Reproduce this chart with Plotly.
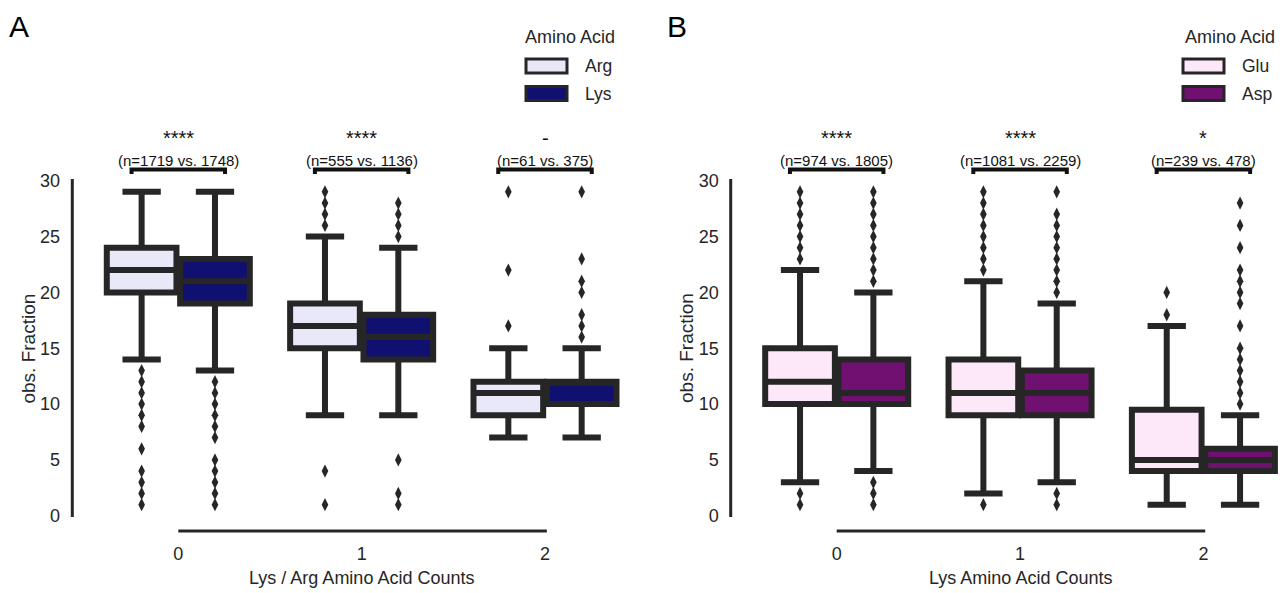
import plotly.graph_objects as go

# ---------------- data ----------------
categories = [0, 1, 2]
tick_labels = ["0", "1", "2"]
y_ticks = [0, 5, 10, 15, 20, 25, 30]

# Panel A (Lys / Arg counts)
a_hues = ["Arg", "Lys"]
arg_q1 = [20, 15, 9]
arg_med = [22, 17, 11]
arg_q3 = [24, 19, 12]
arg_lo = [14, 9, 7]
arg_hi = [29, 25, 15]
arg_out = [[13, 12, 11, 10, 9, 8, 6, 4, 3, 2, 1],
           [29, 28, 27, 26, 4, 1],
           [29, 22, 17]]
lys_q1 = [19, 14, 10]
lys_med = [21, 16, 12]
lys_q3 = [23, 18, 12]
lys_lo = [13, 9, 7]
lys_hi = [29, 24, 15]
lys_out = [[12, 11, 10, 9, 8, 7, 5, 4, 3, 2, 1],
           [28, 27, 26, 25, 5, 2, 1],
           [29, 23, 21, 20, 18, 17, 16]]
a_stars = ["****", "****", "-"]
a_counts = ["(n=1719 vs. 1748)", "(n=555 vs. 1136)", "(n=61 vs. 375)"]

# Panel B (Lys counts)
b_hues = ["Glu", "Asp"]
glu_q1 = [10, 9, 4]
glu_med = [12, 11, 5]
glu_q3 = [15, 14, 9.5]
glu_lo = [3, 2, 1]
glu_hi = [22, 21, 17]
glu_out = [[29, 28, 27, 26, 25, 24, 23, 2, 1],
           [29, 28, 27, 26, 25, 24, 23, 22, 1],
           [20, 18]]
asp_q1 = [10, 9, 4]
asp_med = [11, 11, 5]
asp_q3 = [14, 13, 6]
asp_lo = [4, 3, 1]
asp_hi = [20, 19, 9]
asp_out = [[29, 28, 27, 26, 25, 24, 23, 22, 21, 3, 2, 1],
           [29, 27, 26, 25, 24, 23, 22, 21, 20, 2, 1],
           [28, 26, 24, 22, 21, 20, 19, 17, 15, 14, 13, 12, 11, 10]]
b_stars = ["****", "****", "*"]
b_counts = ["(n=974 vs. 1805)", "(n=1081 vs. 2259)", "(n=239 vs. 478)"]

# ---------------- style ----------------
W, H = 1285, 593
EDGE = "#262626"
TXT = "#262626"
FONT = "Liberation Sans, Arial, sans-serif"
COL = {"Arg": "#E8E8F8", "Lys": "#101070", "Glu": "#FCE8F8", "Asp": "#701070"}
OFFSET = 0.2
BOXW = 0.38


def px_x(p):
    return p / W


def px_y(p):
    return 1 - p / H


fig = go.Figure()


def add_hue(name, q1, med, q3, lo, hi, outs, side, xa, ya):
    pos = [c + side * OFFSET for c in categories]
    fig.add_trace(go.Box(
        x=pos, q1=q1, median=med, q3=q3, lowerfence=lo, upperfence=hi,
        width=BOXW, whiskerwidth=0.55, fillcolor=COL[name],
        line=dict(color=EDGE, width=6), boxpoints=False, name=name,
        showlegend=False, hoverinfo="skip", xaxis=xa, yaxis=ya))
    ox, oy = [], []
    for p, vals in zip(pos, outs):
        for v in vals:
            ox.append(p)
            oy.append(v)
    fig.add_trace(go.Scatter(
        x=ox, y=oy, mode="markers", showlegend=False, hoverinfo="skip",
        marker=dict(symbol="diamond-tall", size=9.5, color=EDGE),
        xaxis=xa, yaxis=ya))


add_hue("Arg", arg_q1, arg_med, arg_q3, arg_lo, arg_hi, arg_out, -1, "x", "y")
add_hue("Lys", lys_q1, lys_med, lys_q3, lys_lo, lys_hi, lys_out, 1, "x", "y")
add_hue("Glu", glu_q1, glu_med, glu_q3, glu_lo, glu_hi, glu_out, -1, "x2", "y2")
add_hue("Asp", asp_q1, asp_med, asp_q3, asp_lo, asp_hi, asp_out, 1, "x2", "y2")

# ---------------- axes geometry ----------------
PXU = 183.35          # px per category unit
YPX = 11.17           # px per y unit
Y0 = 515.8            # pixel of y=0
TOP, BOT = 105, 533
yr = [(Y0 - BOT) / YPX, (Y0 - TOP) / YPX]

panels = [
    dict(xa="x", ya="y", xl="xaxis", yl="yaxis", left=70, right=640, c0=178.3, spine=72.3),
    dict(xa="x2", ya="y2", xl="xaxis2", yl="yaxis2", left=728.7, right=1285, c0=836.7, spine=730.7),
]

layout_axes = {}
for p in panels:
    xr = [(p["left"] - p["c0"]) / PXU, (p["right"] - p["c0"]) / PXU]
    layout_axes[p["xl"]] = dict(
        domain=[px_x(p["left"]), px_x(p["right"])], range=xr, anchor=p["ya"],
        tickvals=categories, ticktext=tick_labels, showgrid=False, zeroline=False,
        showline=False, ticks="", ticklabelstandoff=8,
        tickfont=dict(size=18, color=TXT, family=FONT))
    layout_axes[p["yl"]] = dict(
        domain=[px_y(BOT), px_y(TOP)], range=yr, anchor=p["xa"],
        tickvals=y_ticks, showgrid=False, zeroline=False, showline=False,
        ticks="", ticklabelstandoff=9,
        tickfont=dict(size=18, color=TXT, family=FONT))
    p["spine_x"] = (p["spine"] - p["c0"]) / PXU

shapes = []
annotations = []
spine_y_bottom = (Y0 - 531) / YPX
for p in panels:
    # trimmed y spine (0..30)
    shapes.append(dict(type="line", xref=p["xa"], yref=p["ya"],
                       x0=p["spine_x"], x1=p["spine_x"], y0=-0.1, y1=30.15,
                       line=dict(color=EDGE, width=3)))
    # trimmed x spine (first..last category)
    shapes.append(dict(type="line", xref=p["xa"], yref=p["ya"],
                       x0=categories[0], x1=categories[-1] + 0.01,
                       y0=spine_y_bottom, y1=spine_y_bottom,
                       line=dict(color=EDGE, width=3)))

# significance brackets & labels
BR_TOP = (Y0 - 169.5) / YPX
BR_LOW = (Y0 - 174) / YPX
STAR_BOTTOM = (Y0 - 150) / YPX
N_TOP = (Y0 - 150.5) / YPX
for p, stars, counts in [(panels[0], a_stars, a_counts), (panels[1], b_stars, b_counts)]:
    for c, s, n in zip(categories, stars, counts):
        x0, x1 = c - 0.255, c + 0.255
        shapes.append(dict(type="path", xref=p["xa"], yref=p["ya"],
                           path=f"M {x0},{BR_LOW} L {x0},{BR_TOP} L {x1},{BR_TOP} L {x1},{BR_LOW}",
                           line=dict(color="#111111", width=4)))
        annotations.append(dict(x=c, y=STAR_BOTTOM, xref=p["xa"], yref=p["ya"], text=s,
                                showarrow=False, font=dict(size=20, color="#111111", family=FONT),
                                xanchor="center", yanchor="bottom", borderpad=0))
        annotations.append(dict(x=c, y=N_TOP, xref=p["xa"], yref=p["ya"], text=n,
                                showarrow=False, font=dict(size=15, color="#111111", family=FONT),
                                xanchor="center", yanchor="top", borderpad=0))

# axis titles
for p, xt in [(panels[0], "Lys / Arg Amino Acid Counts"), (panels[1], "Lys Amino Acid Counts")]:
    annotations.append(dict(x=1, y=px_y(578), xref=p["xa"], yref="paper", text=xt,
                            showarrow=False, xanchor="center", yanchor="middle",
                            font=dict(size=18, color=TXT, family=FONT)))
    annotations.append(dict(x=px_x(p["spine"] - 44), y=15, xref="paper", yref=p["ya"],
                            text="obs. Fraction", textangle=-90, showarrow=False,
                            xanchor="center", yanchor="middle",
                            font=dict(size=19, color=TXT, family=FONT)))

# panel letters
for letter, lx in [("A", 7), ("B", 665)]:
    annotations.append(dict(x=px_x(lx), y=px_y(26), xref="paper", yref="paper", text=letter,
                            showarrow=False, xanchor="left", yanchor="middle",
                            font=dict(size=30, color="#000000", family=FONT)))

# legends (manual, seaborn-like patches)
for hues, patch_l, title_c in [(a_hues, 526, 569.5), (b_hues, 1183, 1230)]:
    annotations.append(dict(x=px_x(title_c), y=px_y(37), xref="paper", yref="paper",
                            text="Amino Acid", showarrow=False, xanchor="center",
                            yanchor="middle", font=dict(size=18, color=TXT, family=FONT)))
    for i, h in enumerate(hues):
        yc = 66 + i * 27.5
        shapes.append(dict(type="rect", xref="paper", yref="paper",
                           x0=px_x(patch_l), x1=px_x(patch_l + 41),
                           y0=px_y(yc - 7), y1=px_y(yc + 7),
                           fillcolor=COL[h], line=dict(color=EDGE, width=3)))
        annotations.append(dict(x=px_x(patch_l + 57), y=px_y(yc), xref="paper", yref="paper",
                                text=h, showarrow=False, xanchor="left", yanchor="middle",
                                font=dict(size=17.5, color=TXT, family=FONT)))

fig.update_layout(
    width=W, height=H, margin=dict(l=0, r=0, t=0, b=0),
    paper_bgcolor="white", plot_bgcolor="white", boxmode="overlay",
    showlegend=False, shapes=shapes, annotations=annotations,
    font=dict(family=FONT, color=TXT), **layout_axes)

fig.write_html("out.html")
